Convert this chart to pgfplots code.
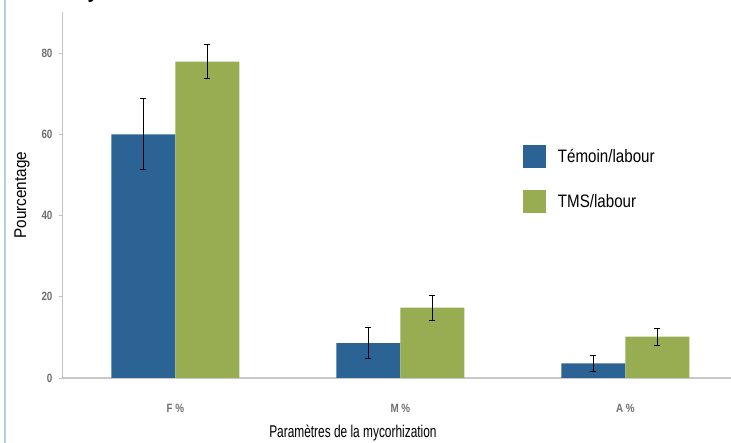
\documentclass[border=0pt]{standalone}
\usepackage{fontspec}
\setmainfont{Liberation Sans}[FakeStretch=0.82]
\newfontfamily\xlabfont{Liberation Sans}[FakeStretch=0.70]
\newfontfamily\ylabfont{Liberation Sans}[FakeStretch=0.90]
\newfontfamily\legfont{Liberation Sans}[FakeStretch=0.84]
\usepackage{pgfplots}
\pgfplotsset{compat=1.18}
\definecolor{cblue}{RGB}{42,99,148}
\definecolor{cgreen}{RGB}{152,172,82}
\definecolor{tickgray}{RGB}{110,110,110}
\definecolor{axgray}{RGB}{195,195,195}
\definecolor{borderblue}{RGB}{175,205,228}
\begin{document}
\begin{tikzpicture}[x=1pt,y=1pt]
\begin{axis}[
  at={(0,0)}, anchor=south west,
  scale only axis, width=668pt, height=365.6pt,
  ybar=0pt, bar width=64pt,
  xmin=-0.5, xmax=2.47, ymin=0, ymax=90,
  xtick={0,1,2}, xticklabels={F \%, M \%, A \%},
  ytick={0,20,40,60,80},
  axis x line*=bottom, axis y line*=left,
  axis line style={axgray, line width=1pt},
  x axis line style={-, line width=1.6pt, color={rgb,255:red,200;green,200;blue,200}},
  y axis line style={-},
  xtick style={draw=none},
  ytick style={axgray, line width=0.8pt},
  tick align=outside, major tick length=4pt,
  yticklabel style={font=\fontsize{12}{13}\selectfont\bfseries, text=tickgray, xshift=-3pt},
  xticklabel style={font=\fontsize{12}{13}\selectfont\bfseries, text=tickgray, yshift=-19pt},
  /pgf/number format/assume math mode=true,
  ylabel={Pourcentage},
  every axis y label/.style={at={(rel axis cs:-0.0614,0.5)}, anchor=center, rotate=90, font=\ylabfont\fontsize{17}{18}\selectfont},
  xlabel={Paramètres de la mycorhization},
  xlabel style={font=\xlabfont\fontsize{17}{18}\selectfont, at={(rel axis cs:0.434,0)}, anchor=center, yshift=-55pt},
  legend style={draw=none, fill=none, at={(rel axis cs:0.6886,0.637)}, anchor=north west,
    font=\legfont\fontsize{18}{19}\selectfont, row sep=22pt, inner sep=0pt, outer sep=0pt},
  legend cell align=left,
  legend image code/.code={\fill[#1] (0pt,-11.5pt) rectangle (23pt,11.5pt);},
]
\addplot[fill=cblue, draw=none,
  error bars/y dir=both, error bars/y explicit,
  error bars/error mark=|,
  error bars/error bar style={draw=black, line width=0.7pt},
  error bars/error mark options={draw=black, mark size=3pt, line width=0.9pt}] coordinates {
  (0,60) +- (0,8.7)
  (1,8.6) +- (0,3.9)
  (2,3.6) +- (0,1.9)
};
\addplot[fill=cgreen, draw=none,
  error bars/y dir=both, error bars/y explicit,
  error bars/error mark=|,
  error bars/error bar style={draw=black, line width=0.7pt},
  error bars/error mark options={draw=black, mark size=3pt, line width=0.9pt}] coordinates {
  (0,77.9) +- (0,4.1)
  (1,17.3) +- (0,3.1)
  (2,10.2) +- (0,2.1)
};
\legend{\hspace{10pt}Témoin/labour, \hspace{10pt}TMS/labour}
\end{axis}
\draw[borderblue, line width=1.5pt] (-58pt,-65pt) -- (-58pt,378pt);
\node[font=\fontsize{24}{26}\selectfont\bfseries, anchor=base] at (30pt,380pt) {y};
\pgfresetboundingbox
\useasboundingbox (-63pt,-65pt) rectangle (668pt,378pt);
\end{tikzpicture}
\end{document}
